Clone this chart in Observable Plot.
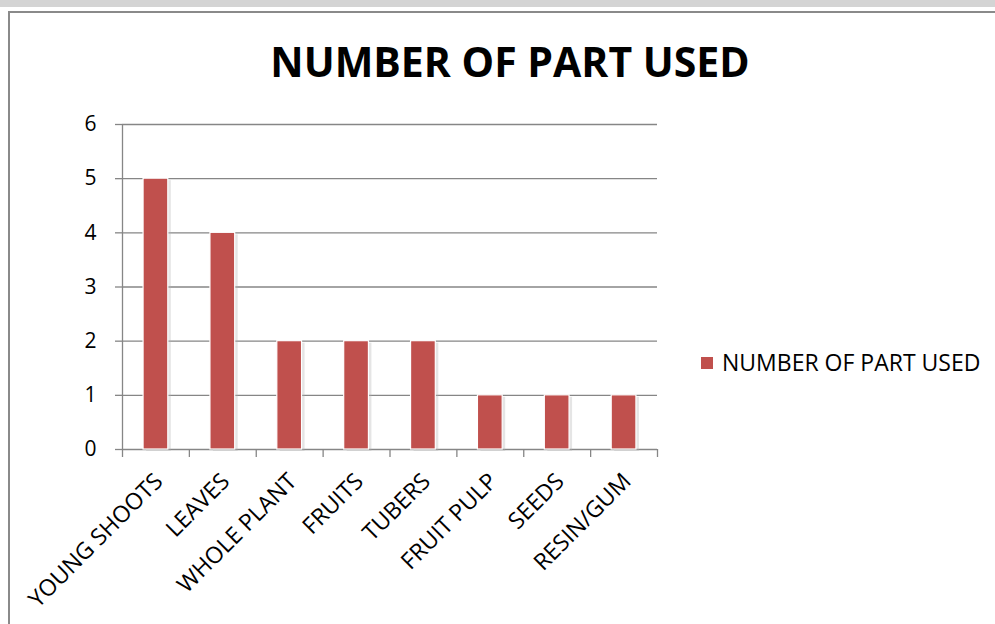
<!DOCTYPE html>
<html>
<head>
<meta charset="utf-8">
<script src="https://cdn.jsdelivr.net/npm/d3@7"></script>
<script src="https://cdn.jsdelivr.net/npm/@observablehq/plot@0.6"></script>
<style>
  body { margin: 0; background: #fff; }
  #wrap { position: relative; width: 995px; height: 624px; overflow: hidden; font-family: "Open Sans", sans-serif; }
  #strip { position: absolute; left: 0; top: 0; width: 995px; height: 7px; background: #d4d4d4; }
  #box { position: absolute; left: 8px; top: 11px; width: 1000px; height: 700px; border: 2px solid #8a8a8a; }
  #title { position: absolute; left: 260px; width: 500px; top: 41px; text-align: center; font-weight: 700; font-size: 41px; line-height: 41px; color: #000; white-space: nowrap; }
  #plot { position: absolute; left: 0; top: 100px; }
  #legend { position: absolute; left: 701px; top: 351px; display: flex; align-items: center; font-size: 23px; line-height: 23px; color: #000; white-space: nowrap; }
  #legend .sw { width: 12px; height: 12px; background: #C0504D; margin-right: 9px; }
</style>
</head>
<body>
<div id="wrap">
  <div id="strip"></div>
  <div id="box"></div>
  <div id="title"></div>
  <div id="plot"></div>
  <div id="legend"><div class="sw"></div><span id="legtext"></span></div>
</div>
<script>
const chartTitle = "NUMBER OF PART USED";
const seriesName = "NUMBER OF PART USED";
const parts = ["YOUNG SHOOTS", "LEAVES", "WHOLE PLANT", "FRUITS", "TUBERS", "FRUIT PULP", "SEEDS", "RESIN/GUM"];
const counts = [5, 4, 2, 2, 2, 1, 1, 1];
const yTicks = [0, 1, 2, 3, 4, 5, 6];

document.getElementById("title").textContent = chartTitle;
document.getElementById("legtext").textContent = seriesName;

const data = parts.map((p, i) => ({part: p, count: counts[i]}));

const W = 700, H = 524, ML = 122, MR = 43, MT = 24, MB = 175;
const step = (W - ML - MR) / parts.length;
const grey = "#868686";
const tickLen = 8 / ((H - MT - MB) / 6);

const chart = Plot.plot({
  width: W, height: H,
  marginLeft: ML, marginRight: MR, marginTop: MT, marginBottom: MB,
  style: {fontFamily: "'Open Sans', sans-serif", fontSize: "21px", color: "#000", background: "transparent", overflow: "visible"},
  x: {domain: parts, paddingInner: 0.63, paddingOuter: 0.315, round: false, axis: null},
  y: {domain: [0, 6], label: null},
  marks: [
    Plot.gridY(yTicks, {stroke: grey, strokeOpacity: 1, strokeWidth: 1.3}),
    Plot.axisY(yTicks, {tickSize: 7, tickPadding: 19, tickFormat: d3.format("d"), stroke: grey, strokeWidth: 1.3, fill: "#000", fontSize: 21, label: null}),
    Plot.ruleX([parts[0]], {x: d => d, dx: -step / 2, y1: 0, y2: 6, stroke: grey, strokeWidth: 1.3}),
    Plot.ruleX(parts, {x: d => d, dx: -step / 2, y1: 0, y2: -tickLen, stroke: grey, strokeWidth: 1.3}),
    Plot.ruleX([parts[parts.length - 1]], {x: d => d, dx: step / 2, y1: 0, y2: -tickLen, stroke: grey, strokeWidth: 1.3}),
    Plot.barY(data, {x: "part", y: "count", fill: "#b5b5b5", fillOpacity: 0.35, dx: 3, dy: 2}),
    Plot.barY(data, {x: "part", y: "count", fill: "#C0504D", stroke: "#fff", strokeWidth: 1.2}),
    Plot.text(data, {x: "part", y: 0, text: "part", rotate: -45, textAnchor: "end", lineAnchor: "middle", dx: 3, dy: 28, fontSize: 23, fill: "#000"})
  ]
});
document.getElementById("plot").appendChild(chart);
</script>
</body>
</html>
